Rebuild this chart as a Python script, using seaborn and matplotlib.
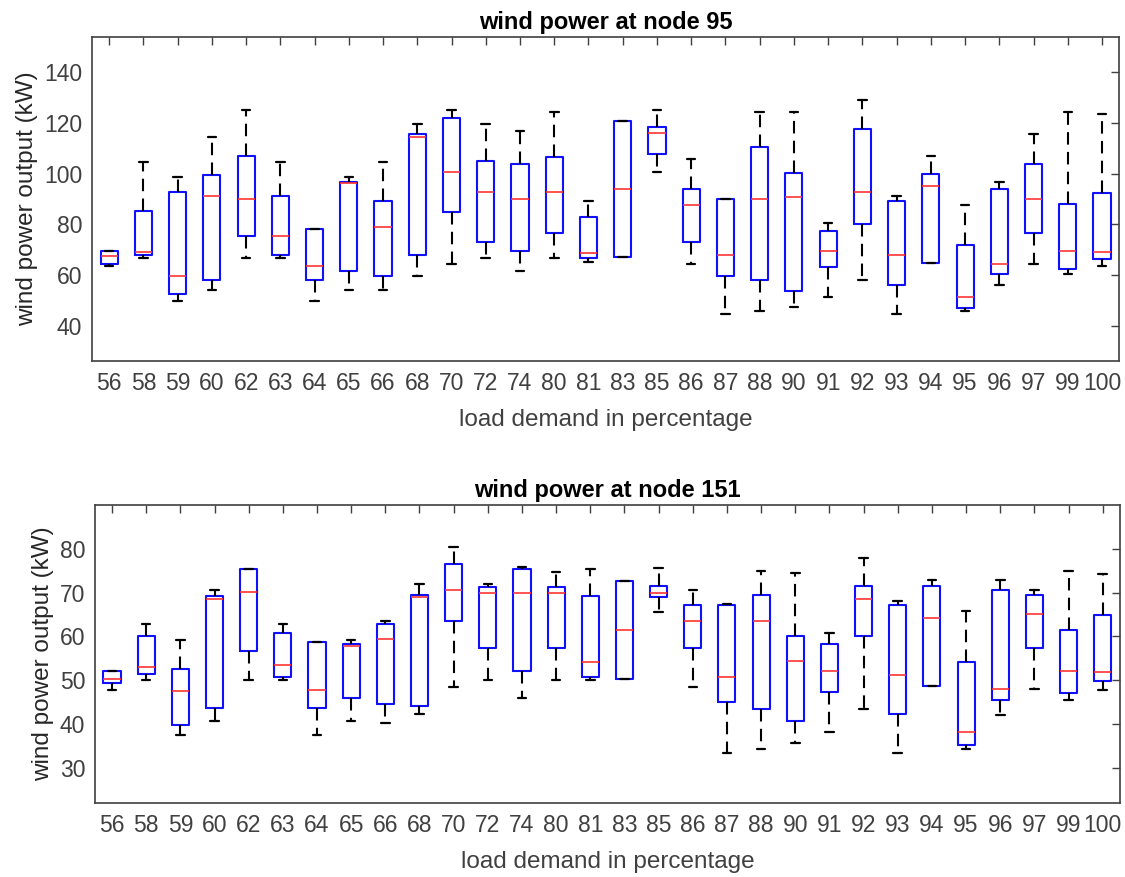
import numpy as np
import pandas as pd
import matplotlib
matplotlib.use("Agg")
import matplotlib.pyplot as plt
import seaborn as sns

# load demand categories (x tick labels)
loads = ["56", "58", "59", "60", "62", "63", "64", "65", "66", "68", "70", "72", "74",
         "80", "81", "83", "85", "86", "87", "88", "90", "91", "92", "93", "94", "95",
         "96", "97", "99", "100"]

# node 95: whisker low, q1, median, q3, whisker high (kW)
n95_low = [63.7, 66.6, 49.8, 54.0, 66.6, 66.6, 49.8, 54.0, 54.0, 59.6, 64.2, 66.6, 61.6,
           66.6, 65.0, 67.1, 100.5, 64.2, 44.6, 45.8, 47.5, 51.1, 58.1, 44.6, 64.9, 45.8,
           56.1, 64.2, 60.2, 63.7]
n95_q1 = [64.2, 67.7, 52.6, 57.9, 75.3, 67.7, 57.9, 61.5, 59.6, 67.7, 84.7, 73.1, 69.5,
          76.6, 66.6, 67.1, 107.9, 73.1, 59.6, 58.1, 53.8, 63.1, 80.1, 56.1, 64.9, 46.9,
          60.2, 76.6, 62.5, 66.1]
n95_med = [67.3, 69.0, 59.6, 91.3, 89.9, 75.3, 63.7, 96.5, 78.9, 114.4, 100.5, 92.8, 89.9,
           92.8, 68.5, 94.0, 116.0, 87.7, 67.8, 89.9, 90.6, 69.6, 92.8, 67.8, 95.2, 51.1,
           64.4, 89.9, 69.6, 69.1]
n95_q3 = [69.6, 85.3, 92.8, 99.3, 106.8, 91.3, 78.2, 96.9, 89.3, 115.5, 122.0, 105.1, 103.9,
          106.4, 83.0, 120.9, 118.4, 94.0, 89.9, 110.4, 100.3, 77.2, 117.7, 89.3, 100.0, 71.9,
          93.9, 103.9, 88.2, 92.3]
n95_high = [69.6, 104.6, 98.8, 114.3, 125.2, 104.6, 78.2, 98.8, 104.6, 119.6, 125.2, 119.6, 116.7,
            124.3, 89.3, 120.9, 125.2, 105.7, 89.9, 124.3, 124.3, 80.7, 129.2, 91.1, 106.8, 87.7,
            96.8, 115.5, 124.3, 123.7]

# node 151
n151_low = [47.8, 50.1, 37.4, 40.7, 50.1, 50.1, 37.4, 40.7, 40.3, 42.4, 48.5, 50.1, 46.0,
            50.1, 50.1, 50.4, 65.6, 48.5, 33.3, 34.3, 35.7, 38.1, 43.4, 33.3, 48.7, 34.3,
            42.1, 48.1, 45.4, 47.8]
n151_q1 = [49.4, 51.4, 39.7, 43.7, 56.7, 50.7, 43.7, 46.0, 44.7, 44.1, 63.5, 57.4, 52.1,
           57.4, 50.8, 50.4, 68.9, 57.4, 45.0, 43.4, 40.7, 47.4, 60.2, 42.3, 48.7, 35.3,
           45.4, 57.4, 47.1, 49.8]
n151_med = [50.4, 53.1, 47.5, 68.6, 70.2, 53.5, 47.8, 57.8, 59.5, 68.9, 70.6, 69.9, 69.9,
            69.9, 54.2, 61.5, 69.9, 63.5, 50.8, 63.5, 54.5, 52.1, 68.5, 51.1, 64.2, 38.1,
            48.1, 65.2, 52.1, 51.8]
n151_q3 = [52.2, 60.2, 52.5, 69.2, 75.3, 60.9, 58.8, 58.2, 62.9, 69.5, 76.6, 71.3, 75.3,
           71.3, 69.2, 72.6, 71.6, 67.2, 67.2, 69.5, 60.2, 58.2, 71.6, 67.2, 71.6, 54.2,
           70.6, 69.5, 61.5, 64.9]
n151_high = [52.2, 62.9, 59.1, 70.6, 75.3, 62.9, 58.8, 59.2, 63.5, 71.9, 80.3, 71.9, 75.9,
             74.6, 75.3, 72.6, 75.6, 70.6, 67.5, 74.9, 74.5, 60.9, 77.9, 68.2, 72.9, 65.9,
             72.9, 70.6, 74.9, 74.2]


def to_long(low, q1, med, q3, high):
    # five points per category reproduce q1/median/q3 exactly, whiskers = min/max
    rows = []
    for i, lab in enumerate(loads):
        for v in (low[i], q1[i], med[i], q3[i], high[i]):
            rows.append({"load": lab, "power": v})
    return pd.DataFrame(rows)


def draw(ax, df, title, ylim, yticks):
    sns.boxplot(
        data=df, x="load", y="power", order=loads, ax=ax,
        whis=(0, 100), width=0.5, fill=False, color="#1010ff", linewidth=1.5,
        showfliers=False,
        boxprops=dict(color="#1010ff"),
        medianprops=dict(color="#ff3333", linewidth=1.2),
        whiskerprops=dict(color="black", linestyle=(0, (6, 3.5))),
        capprops=dict(color="black", linewidth=1.6),
    )
    ax.set_title(title, fontsize=17, fontweight="bold", color="black", pad=6)
    ax.set_xlabel("load demand in percentage", fontsize=17.5, color="#404040", labelpad=10)
    ax.set_ylabel("wind power output (kW)", fontsize=17.5, color="#262626", labelpad=4)
    ax.set_ylim(*ylim)
    ax.set_xlim(-0.5, len(loads) - 0.5)
    ax.set_yticks(yticks)
    ax.tick_params(direction="in", top=True, right=True, length=6, width=1,
                   color="#404040", labelsize=16.5, labelcolor="#404040")
    ax.tick_params(axis="x", pad=8)
    ax.tick_params(axis="y", pad=7)
    for s in ax.spines.values():
        s.set_color("#404040")
        s.set_linewidth(1.2)


sns.set_style("white")
plt.rcParams["font.family"] = ["Liberation Sans", "DejaVu Sans"]

fig = plt.figure(figsize=(11.25, 8.77), dpi=100)
ax1 = fig.add_axes([0.0818, 0.5884, 0.913, 0.3694])
ax2 = fig.add_axes([0.0844, 0.0844, 0.911, 0.3398])

draw(ax1, to_long(n95_low, n95_q1, n95_med, n95_q3, n95_high),
     "wind power at node 95", (26, 154), [40, 60, 80, 100, 120, 140])
draw(ax2, to_long(n151_low, n151_q1, n151_med, n151_q3, n151_high),
     "wind power at node 151", (22, 90), [30, 40, 50, 60, 70, 80])

fig.savefig("out.png", dpi=100)
